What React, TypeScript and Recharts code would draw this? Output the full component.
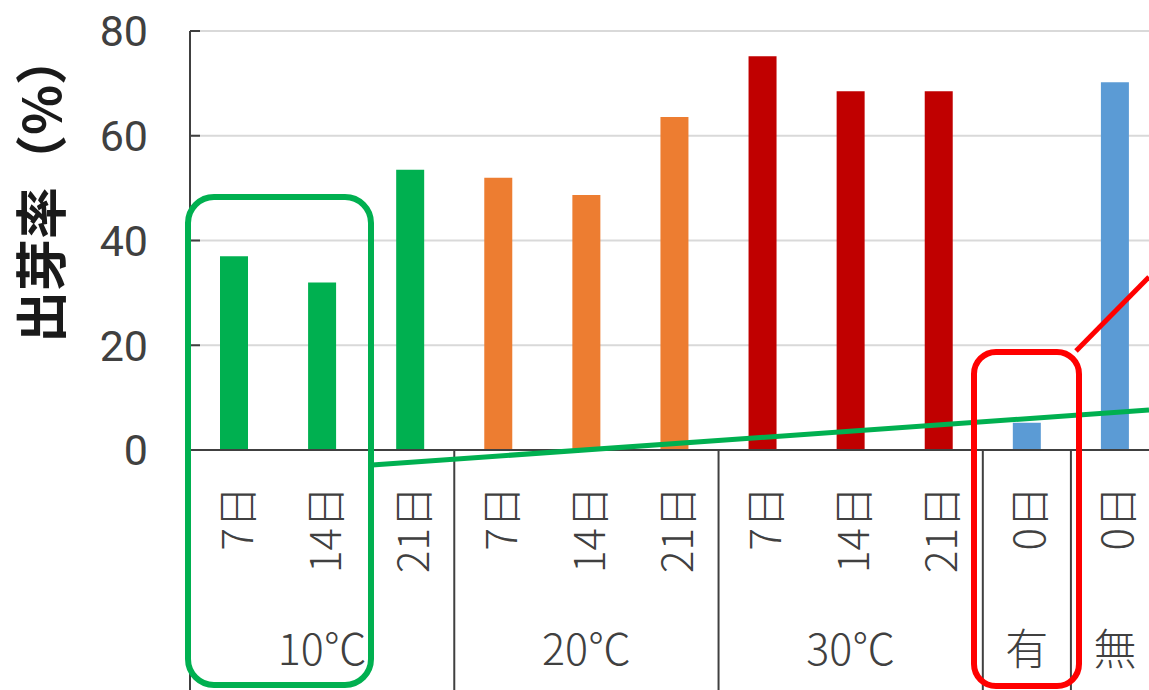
import React from 'react';
import { BarChart, Bar, XAxis, YAxis, CartesianGrid, Cell } from 'recharts';

const dayLabels = ['7日', '14日', '21日', '7日', '14日', '21日', '7日', '14日', '21日', '0日', '0日'];
const groupOf = ['10℃', '10℃', '10℃', '20℃', '20℃', '20℃', '30℃', '30℃', '30℃', '有', '無'];
const values = [37, 32, 53.5, 52, 48.7, 63.6, 75.2, 68.5, 68.5, 5.2, 70.2];
const barColors = ['#00B050', '#00B050', '#00B050', '#ED7D31', '#ED7D31', '#ED7D31', '#C00000', '#C00000', '#C00000', '#5B9BD5', '#5B9BD5'];
const yTicks = [0, 20, 40, 60, 80];
const groupStartIdx = [0, 3, 6, 9, 10];
const groupLabelIdx = [1, 4, 7, 9, 10];

const data = values.map((v, i) => ({ id: `c${i}`, day: dayLabels[i], group: groupOf[i], value: v, color: barColors[i] }));

const FONT = '"Noto Sans CJK JP", "Noto Sans", sans-serif';
const NUM_FONT = 'Roboto, "Noto Sans", sans-serif';
const TEXT = '#404040';
const CHART_W = 1175;
const MARGIN = { top: 31, right: 16, left: 0, bottom: 0 };
const Y_W = 190;
const BAND = (CHART_W - Y_W - MARGIN.right) / values.length;

const DayTick = (props: any) => {
  const { x, y, index, payload } = props;
  const half = payload && typeof payload.offset === 'number' && payload.offset > 0 ? payload.offset : BAND / 2;
  const ty = y + 36;
  return (
    <g>
      {groupStartIdx.includes(index) && (
        <line x1={x - half} y1={y} x2={x - half} y2={y + 240} stroke={TEXT} strokeWidth={2} />
      )}
      <text
        x={x}
        y={ty}
        transform={`rotate(-90 ${x} ${ty})`}
        textAnchor="end"
        dominantBaseline="central"
        fontSize={42}
        fontWeight={300}
        fontFamily={FONT}
        fill={TEXT}
      >
        {dayLabels[index]}
      </text>
    </g>
  );
};

const GroupTick = (props: any) => {
  const { x, y, index } = props;
  if (!groupLabelIdx.includes(index)) return <g />;
  return (
    <text x={x} y={y + 46} textAnchor="middle" dominantBaseline="central" fontSize={43} fontWeight={300} fontFamily={FONT} fill={TEXT}>
      {groupOf[index]}
    </text>
  );
};

const YTick = (props: any) => {
  const { x, y, payload } = props;
  return (
    <g>
      <line x1={x} y1={y} x2={x + 10} y2={y} stroke={TEXT} strokeWidth={2} />
      <text x={x - 42} y={y} dy="0.36em" textAnchor="end" fontSize={43} fontFamily={NUM_FONT} fill={TEXT}>
        {payload.value}
      </text>
    </g>
  );
};

const YTitle = () => (
  <text
    x={38}
    y={188}
    transform="rotate(-90 38 188)"
    textAnchor="middle"
    dominantBaseline="central"
    fontSize={52}
    fontWeight="bold"
    fontFamily={FONT}
    fill="#1a1a1a"
  >
    出芽率（%）
  </text>
);

export default function App() {
  return (
    <div style={{ position: 'fixed', left: 0, top: 0, width: 1149, height: 690, overflow: 'hidden', background: '#fff' }}>
      <BarChart width={CHART_W} height={690} data={data} margin={MARGIN} barCategoryGap={0}>
        <CartesianGrid horizontal vertical={false} stroke="#d9d9d9" strokeWidth={2} />
        <XAxis
          xAxisId="day"
          dataKey="id"
          height={150}
          axisLine={{ stroke: TEXT, strokeWidth: 2 }}
          tickLine={false}
          tickSize={0}
          tickMargin={0}
          interval={0}
          tick={<DayTick />}
        />
        <XAxis
          xAxisId="grp"
          dataKey="id"
          height={90}
          axisLine={false}
          tickLine={false}
          tickSize={0}
          tickMargin={0}
          interval={0}
          tick={<GroupTick />}
        />
        <YAxis
          width={Y_W}
          domain={[0, 80]}
          ticks={yTicks}
          interval={0}
          axisLine={{ stroke: TEXT, strokeWidth: 2 }}
          tickLine={false}
          tickSize={0}
          tickMargin={0}
          tick={<YTick />}
          label={{ content: () => <YTitle /> }}
        />
        <Bar xAxisId="day" dataKey="value" barSize={28} isAnimationActive={false}>
          {data.map((d) => (
            <Cell key={d.id} fill={d.color} />
          ))}
        </Bar>
      </BarChart>
      <svg width={1149} height={690} style={{ position: 'absolute', left: 0, top: 0, pointerEvents: 'none' }}>
        <rect x={188} y={197} width={183} height={488} rx={26} ry={26} fill="none" stroke="#00B050" strokeWidth={6} />
        <line x1={372} y1={465} x2={1149} y2={410} stroke="#00B050" strokeWidth={5} />
        <rect x={974} y={352} width={105} height={334} rx={22} ry={22} fill="none" stroke="#FF0000" strokeWidth={6} />
        <line x1={1076} y1={351} x2={1149} y2={277} stroke="#FF0000" strokeWidth={5} />
      </svg>
    </div>
  );
}
